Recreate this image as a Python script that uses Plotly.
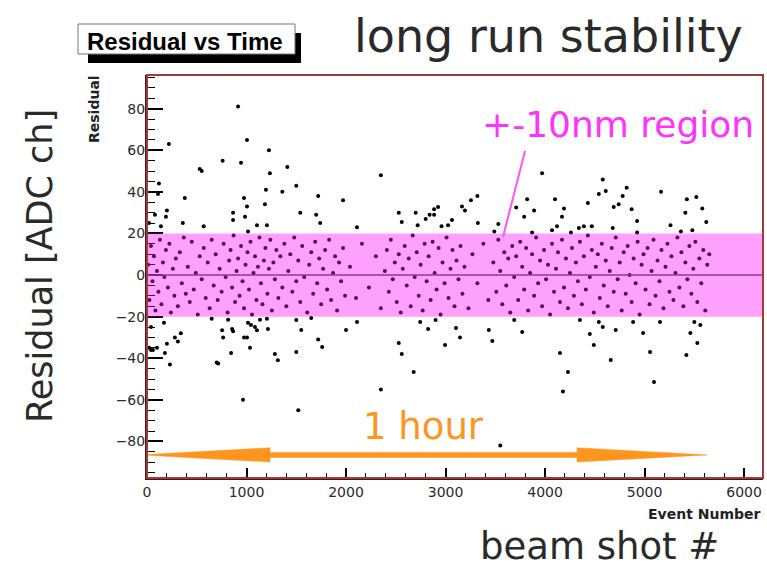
import plotly.graph_objects as go

# ---------------- data ----------------
events_band = [
    10, 25, 40, 55, 70, 85, 100, 115, 130, 145, 160, 175, 190,
    210, 225, 240, 260, 275, 290, 310, 330, 350, 370, 390,
    410, 430, 450, 470, 490, 510, 530, 550, 570, 590,
    610, 630, 650, 670, 690, 710, 730, 750, 770, 790,
    810, 825, 840, 855, 870, 885, 900, 915, 930, 945, 960, 975, 990,
    1010, 1025, 1040, 1055, 1070, 1085, 1100, 1115, 1130, 1145, 1160, 1175, 1190,
    1210, 1225, 1240, 1255, 1270, 1285, 1300, 1320, 1340, 1360, 1380,
    1400, 1420, 1440, 1460, 1480, 1500, 1520, 1540, 1560, 1580,
    1610, 1630, 1650, 1670, 1690, 1710, 1730, 1750, 1770, 1790,
    1810, 1830, 1850, 1870, 1890, 1910, 1930, 1950, 1970, 1990,
    2040, 2100, 2160, 2230, 2300, 2350, 2390,
    2410, 2430, 2450, 2470, 2490, 2510, 2530, 2550, 2570, 2590,
    2610, 2630, 2650, 2670, 2690, 2710, 2730, 2750, 2770, 2790,
    2810, 2830, 2850, 2870, 2890, 2910, 2930, 2950, 2970, 2990,
    3010, 3030, 3050, 3070, 3090, 3110, 3130, 3150, 3170, 3190,
    3230, 3270, 3320, 3380, 3430, 3480,
    3510, 3530, 3550, 3570, 3590, 3610, 3630, 3650, 3670, 3690,
    3710, 3730, 3750, 3770, 3790, 3810, 3830, 3850, 3870, 3890,
    3910, 3930, 3950, 3970, 3990, 4010, 4030, 4050, 4070, 4090,
    4110, 4130, 4150, 4170, 4190, 4210, 4230, 4250, 4270, 4290,
    4310, 4330, 4350, 4370, 4390, 4410, 4430, 4450, 4470, 4490,
    4510, 4530, 4550, 4570, 4590, 4610, 4630, 4650, 4670, 4690,
    4710, 4730, 4750, 4770, 4790, 4810, 4830, 4850, 4870, 4890,
    4910, 4930, 4950, 4970, 4990, 5010, 5030, 5050, 5070, 5090,
    5110, 5130, 5150, 5170, 5190, 5210, 5230, 5250, 5270, 5290,
    5310, 5330, 5350, 5370, 5390, 5410, 5430, 5450, 5470, 5490,
    5510, 5530, 5550, 5570, 5590, 5610, 5630, 5650,
]
residual_band = [
    5, -12, 14, -3, 9, -17, 2, -8, 17, -14, 6, -1, 12,
    -6, 15, -18, 3, -10, 8, -15, 11, -4, 18, -9,
    4, -13, 16, -7, 1, -19, 9, -2, 13, -11,
    6, -16, 17, -5, 10, -12, 3, -8, 15, -1,
    -18, 7, 12, -6, 19, -13, 2, 8, -10, 14, -3, -16, 5,
    11, -7, 16, -19, 1, 9, -12, 4, 18, -4, -14, 7, 13,
    -9, 3, 17, -17, 6, -2, 12, -11, 9, -6, 15,
    -15, 2, 10, -8, 18, -3, 7, -13, 14, -1,
    -18, 5, 11, -9, 16, -4, 8, -14, 3, 12,
    -7, 17, -12, 1, 9, -17, 6, -3, 13, -10,
    4, -11, 15, -6, 9, -16, 2,
    12, -8, 17, -2, 6, -13, 10, -18, 3, 14,
    -5, 8, -15, 19, -1, 11, -10, 5, -17, 15,
    -3, 9, -12, 16, 1, -7, 13, -19, 6, -4,
    18, -11, 3, 12, -15, 7, -2, 14, -9, 4,
    -16, 10, -4, 15, -12, 6,
    -8, 17, 2, -14, 11, -5, 8, -18, 14, -1,
    9, -12, 16, 4, -7, 13, -17, 1, 10, -10,
    18, -4, 7, -15, 12, -2, 5, -19, 15, -8,
    3, 11, -13, 17, -6, 8, -16, 1, 13, -10,
    6, -3, 16, -14, 9, -7, 19, -1, 12, -18,
    4, 10, -11, 15, -5, 7, -15, 2, 13, -8,
    18, -2, 6, -17, 11, -9, 14, 0, -13, 8,
    -4, 16, -19, 5, 10, -7, 13, -14, 2, 17,
    -10, 7, -3, 12, -16, 4, 15, -8, 9, -12,
    1, 18, -6, 11, -15, 6, -2, 14, -9, 3,
    16, -13, 8, -4, 12, -17, 5, 10,
]

events_above = [
    20, 80, 110, 120, 140, 190, 200, 220, 360, 380, 530, 550, 570, 760,
    865, 865, 915, 945, 975, 985, 1005, 1005, 1015, 1105, 1185, 1195, 1205,
    1225, 1235, 1360, 1410, 1500, 1540, 1700, 1720, 1740, 1970, 2110, 2350,
    2530, 2560, 2700, 2720, 2800, 2840, 2885, 2885, 2925, 2960, 3025, 3065,
    3165, 3195, 3255, 3320, 3325, 3490, 3530, 3710, 3790, 3820, 3870, 3890,
    3970, 4070, 4100, 4120, 4170, 4190, 4260, 4340, 4390, 4430, 4470, 4540,
    4580, 4610, 4680, 4690, 4740, 4780, 4820, 4870, 4925, 4925, 5165, 5260,
    5365, 5410, 5425, 5480, 5520, 5580, 5620,
]
residual_above = [
    25, 29, 39, 44, 23.5, 28, 31, 63, 25, 37, 51, 50, 23.5, 55,
    30, 26.5, 81, 54, 37, 28, 33, 65, 21, 24, 34, 41, 24,
    60, 49, 40, 52, 43, 30, 29, 38, 25, 36, 23, 48,
    30, 25.5, 30, 24, 27, 29, 31.7, 29, 32.7, 23.5, 24, 26.5,
    33, 31, 36, 38, 25, 21, 24.5, 32.5, 28, 36.5, 20.5, 31,
    49, 21.5, 36.5, 23.5, 28, 32, 20.5, 22.6, 23.5, 34.6, 23.5, 39,
    46, 40.4, 22.6, 32.7, 34, 38, 42, 31.7, 26, 20.5, 40, 24,
    21, 30, 36.5, 21.6, 37.5, 32, 25.5,
]

events_below = [
    20, 40, 40, 60, 100, 170, 180, 200, 230, 280, 310, 340, 650, 700, 715,
    755, 765, 815, 845, 855, 865, 965, 975, 1005, 1015, 1035, 1045, 1085,
    1105, 1135, 1205, 1215, 1285, 1315, 1500, 1500, 1520, 1550, 1650, 1720,
    1760, 2000, 2110, 2350, 2530, 2560, 2680, 2745, 2825, 2900, 2995, 3105,
    3145, 3435, 3470, 3550, 3690, 3770, 4150, 4180, 4230, 4350, 4450, 4490,
    4540, 4580, 4660, 4710, 4885, 4985, 5055, 5095, 5155, 5420, 5460, 5500,
    5530, 5560,
]
residual_below = [
    -35, -25, -36, -36, -35, -23, -37.5, -33, -43, -30, -32, -28, -21, -42, -42.5,
    -26.5, -30, -21.5, -37.5, -26, -27, -60, -30, -30, -23, -35, -24, -25,
    -26.5, -21.5, -21, -26, -38, -41, -21.6, -37, -65, -26.4, -20.7, -31,
    -34.6, -26.4, -22.6, -55, -32.7, -38, -46.6, -22.6, -26, -21.6, -33.7, -25.5,
    -30, -26.4, -31.7, -82, -21.6, -27.4, -37.5, -56, -46.6, -21.6, -28.4, -33.7,
    -22.6, -25, -40.9, -26.4, -22.6, -27.9, -37, -51.4, -22.6, -38.5, -27.9, -22.6,
    -32.7, -24,
]

band_limits = [-20, 20]          # +-10 nm region
hour_start, hour_end = -70, 5628  # 1 hour span in events
hour_head_left, hour_head_right = 1236, 4322
hour_level = -86.5

x_range = [0, 6190]
y_range = [-97.6, 96.2]

# ---------------- layout helpers (pixel -> paper) ----------------
W, H = 767, 562
L, R, T, B = 147, 763, 75, 478


def fx(px):
    return (px - L) / (R - L)


def fy(py):
    return (B - py) / (B - T)


fig = go.Figure()

events = events_band + events_above + events_below
residuals = residual_band + residual_above + residual_below
fig.add_trace(go.Scatter(
    x=events, y=residuals, mode="markers",
    marker=dict(color="black", size=4, line=dict(width=0)),
    showlegend=False, hoverinfo="x+y", cliponaxis=True,
))

shapes = []
shapes.append(dict(type="line", xref="paper", yref="y", x0=0, x1=1, y0=0, y1=0,
                   line=dict(color="#555555", width=1.5), layer="above"))
shapes.append(dict(type="rect", xref="paper", yref="y", x0=0, x1=1,
                   y0=band_limits[0], y1=band_limits[1],
                   fillcolor="rgba(255,0,255,0.37)", line=dict(width=0), layer="above"))
hh, sh = 3.4, 1.2
p = (f"M {hour_start},{hour_level} "
     f"L {hour_head_left},{hour_level + hh} L {hour_head_left},{hour_level + sh} "
     f"L {hour_head_right},{hour_level + sh} L {hour_head_right},{hour_level + hh} "
     f"L {hour_end},{hour_level} "
     f"L {hour_head_right},{hour_level - hh} L {hour_head_right},{hour_level - sh} "
     f"L {hour_head_left},{hour_level - sh} L {hour_head_left},{hour_level - hh} Z")
shapes.append(dict(type="path", xref="x", yref="y", path=p,
                   fillcolor="#ff951f", line=dict(color="#ff951f", width=0.5), layer="above"))
shapes.append(dict(type="rect", xref="paper", yref="paper", x0=0, x1=1, y0=0, y1=1,
                   line=dict(color="#a03a3a", width=2), layer="above"))
shapes.append(dict(type="line", xref="paper", yref="paper",
                   x0=fx(525), y0=fy(151), x1=fx(503), y1=fy(237),
                   line=dict(color="#ff55ff", width=2), layer="above"))
shapes.append(dict(type="rect", xref="paper", yref="paper",
                   x0=fx(88), x1=fx(301), y0=fy(63), y1=fy(33),
                   fillcolor="black", line=dict(width=0), layer="above"))
shapes.append(dict(type="rect", xref="paper", yref="paper",
                   x0=fx(78), x1=fx(295), y0=fy(54), y1=fy(24),
                   fillcolor="white", line=dict(color="#777777", width=1), layer="above"))

SANS = "DejaVu Sans"


def note(text, px, py, size, color, xanchor="center", angle=0, family=SANS):
    return dict(text=text, xref="paper", yref="paper", x=fx(px), y=fy(py),
                xanchor=xanchor, yanchor="middle", textangle=angle, showarrow=False,
                font=dict(family=family, size=size, color=color))


ann = [
    note("<b>Residual vs Time</b>", 185, 41, 24, "black", family="Liberation Sans"),
    note("long run stability", 352, 36, 46, "#2a2a2a", xanchor="left"),
    note("Residual [ADC ch]", 40, 266, 35, "#2a2a2a", angle=-90),
    note("<b>Residual</b>", 94, 109, 14, "#222222", angle=-90),
    note("+-10nm region", 756, 125, 36, "#ff33ff", xanchor="right"),
    note("1 hour", 423, 426, 37, "#ff951f"),
    note("<b>Event Number</b>", 763, 514, 14, "#222222", xanchor="right"),
    note("beam shot #", 599, 546, 37, "#2a2a2a"),
]

fig.update_layout(
    width=W, height=H,
    margin=dict(l=L, r=W - R, t=T, b=H - B, pad=0, autoexpand=False),
    paper_bgcolor="white", plot_bgcolor="white",
    shapes=shapes, annotations=ann, showlegend=False,
    xaxis=dict(range=x_range, dtick=1000, tick0=0, ticks="inside", ticklen=10,
               tickwidth=1.5, tickcolor="black", automargin=False,
               minor=dict(dtick=200, ticks="inside", ticklen=5, tickcolor="black", tickwidth=1.2),
               showgrid=False, zeroline=False, showline=True, linecolor="#3a1a1a", linewidth=2,
               tickfont=dict(family=SANS, size=14, color="#2a2a2a")),
    yaxis=dict(range=y_range, dtick=20, tick0=0, ticks="inside", ticklen=16,
               tickwidth=1.5, tickcolor="black", automargin=False,
               minor=dict(dtick=5, ticks="inside", ticklen=8, tickcolor="black", tickwidth=1.2),
               showgrid=False, zeroline=False, showline=True, linecolor="#3a1a1a", linewidth=2,
               ticklabelstandoff=-3,
               tickfont=dict(family=SANS, size=14, color="#2a2a2a")),
)

fig.write_html("out.html", config={"displayModeBar": False},
               post_script="document.body.style.margin='0';document.body.style.padding='0';")
